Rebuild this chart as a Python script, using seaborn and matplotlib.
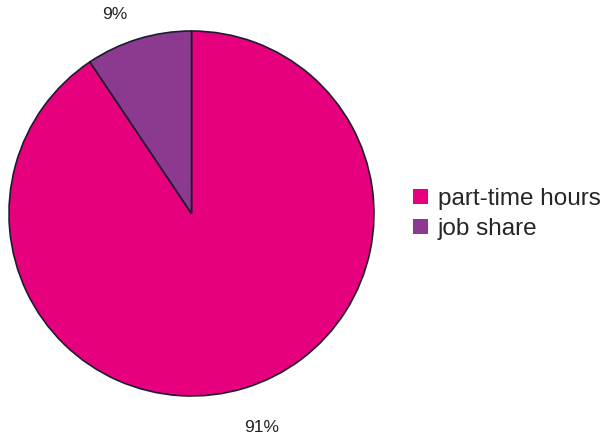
import matplotlib
matplotlib.use("Agg")
import matplotlib.pyplot as plt
import seaborn as sns
from matplotlib.patches import Patch

sns.set_theme(style="white")
plt.rcParams['font.family'] = ['Liberation Sans', 'DejaVu Sans']

categories = ["part-time hours", "job share"]
values = [90.6, 9.4]
colors = ["#E6007E", "#8B3A8F"]
# label positions relative to the pie (in units of radius)
label_pos = [(0.386, -1.170), (-0.419, 1.088)]

fig = plt.figure(figsize=(6.07, 4.38), dpi=100)
W, H = 607, 438
cx, cy, r = 191.5, 213.5, 182.5
ax = fig.add_axes([(cx - r) / W, (H - cy - r) / H, 2 * r / W, 2 * r / H])

wedges, texts, autotexts = ax.pie(
    values, colors=colors, startangle=90, counterclock=False,
    autopct=lambda p: f"{p:.0f}%", pctdistance=1.2,
    wedgeprops=dict(edgecolor="#1c1c30", linewidth=1.2),
    textprops=dict(fontsize=12.5, color="#222222"),
)
for t, pos in zip(autotexts, label_pos):
    t.set_position(pos)
ax.set_aspect("equal")
ax.set_xlim(-1, 1)
ax.set_ylim(-1, 1)
ax.axis("off")

handles = [Patch(facecolor=c, edgecolor="none") for c in colors]
fs = 17.5
fig.legend(handles, categories, loc="center left",
           bbox_to_anchor=(413 / W, 1 - 214 / H), frameon=False,
           fontsize=fs, handlelength=0.6, handleheight=0.6,
           handletextpad=0.42, labelspacing=0.32, borderpad=0, borderaxespad=0)

fig.savefig("out.png", dpi=100)
